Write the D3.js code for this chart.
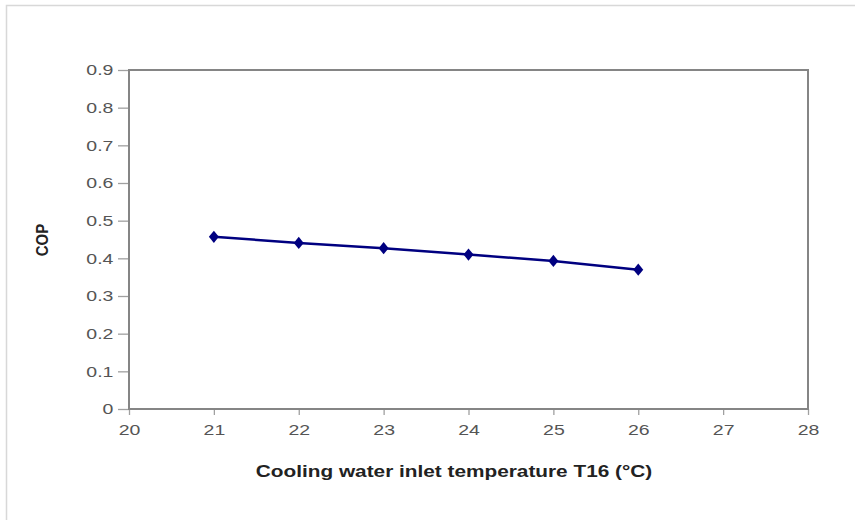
<!DOCTYPE html>
<html><head><meta charset="utf-8">
<script src="https://cdn.jsdelivr.net/npm/d3@7"></script>
<style>body{margin:0;background:#fff;}svg{display:block;font-family:"Liberation Sans",Arial,sans-serif;}</style>
</head><body>
<svg id="c" width="855" height="520"></svg>
<script>
const temps = [21, 22, 23, 24, 25, 26];
const cop = [0.457, 0.441, 0.427, 0.410, 0.393, 0.370];
const xTicks = [20, 21, 22, 23, 24, 25, 26, 27, 28];
const yTicks = [0, 0.1, 0.2, 0.3, 0.4, 0.5, 0.6, 0.7, 0.8, 0.9];
const xTitle = "Cooling water inlet temperature T16 (°C)";
const yTitle = "COP";

const svg = d3.select("#c");
svg.append("rect").attr("x",6.5).attr("y",5.5).attr("width",870).attr("height",540)
  .attr("fill","#fff").attr("stroke","#d8d8d8").attr("stroke-width",1.5);

const L=129, R=808, T=70, B=409;
const x = d3.scaleLinear().domain([20,28]).range([L,R]);
const y = d3.scaleLinear().domain([0,0.9]).range([B,T]);

const gx = svg.append("g").attr("transform",`translate(0,${B})`)
  .call(d3.axisBottom(x).tickValues(xTicks).tickSize(6).tickSizeOuter(0).tickFormat(d3.format("d")));
const gy = svg.append("g").attr("transform",`translate(${L},0)`)
  .call(d3.axisLeft(y).tickValues(yTicks).tickSize(11).tickSizeOuter(0).tickFormat(d=> d===0?"0":d3.format(".1f")(d)));
[gx,gy].forEach(g=>{
  g.select(".domain").remove();
  g.selectAll(".tick line").attr("stroke","#a0a0a0").attr("stroke-width",1.3);
  g.selectAll(".tick text").attr("fill","#555").style("font-size","15px");
});
gx.selectAll(".tick text").attr("y",15).attr("dy","0.71em").attr("transform","scale(1.3,1)");
gy.selectAll(".tick text").attr("x",-12).attr("transform","scale(1.3,1)");

svg.append("rect").attr("x",L).attr("y",T).attr("width",R-L).attr("height",B-T)
  .attr("fill","none").attr("stroke","#858585").attr("stroke-width",2);

const pts = temps.map((t,i)=>[t,cop[i]]);
svg.append("path").datum(pts)
  .attr("d", d3.line().x(d=>x(d[0])).y(d=>y(d[1])))
  .attr("fill","none").attr("stroke","#000080").attr("stroke-width",2.5);
svg.selectAll("path.m").data(pts).enter().append("path").attr("class","m")
  .attr("d", d3.symbol().type(d3.symbolDiamond).size(60))
  .attr("transform", d=>`translate(${x(d[0])},${y(d[1])}) scale(1.2,0.85)`)
  .attr("fill","#000080");

svg.append("g").attr("transform",`translate(454,477) scale(1.3,1)`)
  .append("text").attr("text-anchor","middle")
  .style("font-size","16px").style("font-weight","bold").attr("fill","#222").text(xTitle);
svg.append("g").attr("transform",`translate(48,240) scale(1.15,1) rotate(-90)`)
  .append("text").attr("text-anchor","middle")
  .style("font-size","15px").style("font-weight","bold").attr("fill","#222").text(yTitle);
</script>
</body></html>
